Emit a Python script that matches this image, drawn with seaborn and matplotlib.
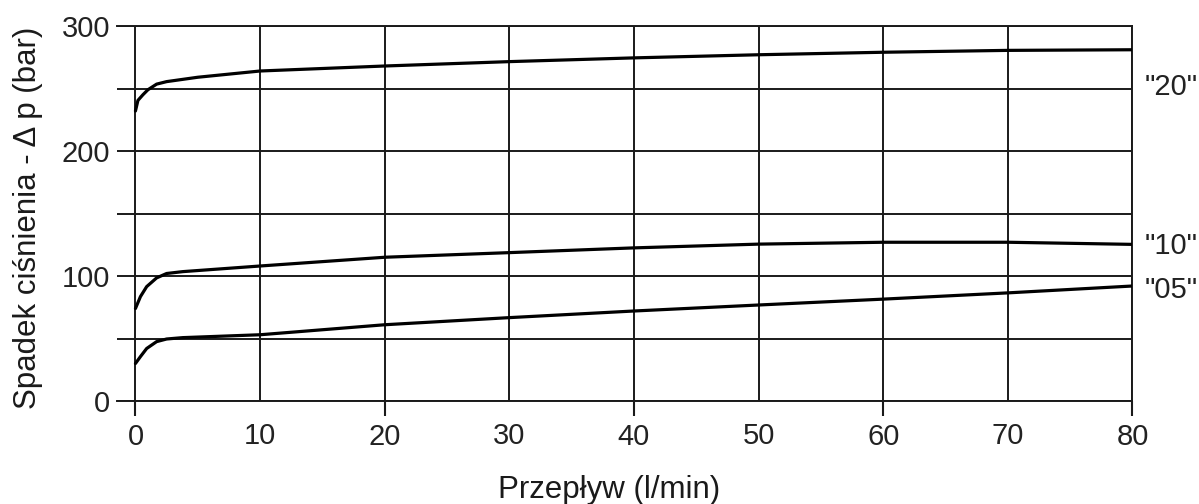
import pandas as pd
import seaborn as sns
import matplotlib.pyplot as plt

# odczyty z wykresu: przeplyw (l/min) i spadek cisnienia (bar)
flow_20 = [0, 0.2, 0.6, 1.0, 1.7, 2.5, 5, 10, 20, 30, 40, 50, 60, 70, 80]
dp_20 = [232, 240.5, 245, 249, 253.5, 255.5, 259, 264, 268, 271.5, 274.5, 277, 279, 280.5, 281]

flow_10 = [0, 0.4, 0.9, 1.7, 2.5, 3.8, 10, 20, 30, 40, 50, 60, 70, 80]
dp_10 = [74, 83.5, 91.5, 98.5, 102, 103.5, 108, 115, 118.7, 122.5, 125.5, 127, 127, 125.3]

flow_05 = [0, 0.4, 0.9, 1.7, 2.5, 3.8, 10, 20, 30, 40, 50, 60, 70, 80]
dp_05 = [30, 35.5, 42, 47.5, 49.6, 50.7, 53, 61, 66.7, 72, 76.8, 81.5, 86.5, 92]

series_names = ['"20"', '"10"', '"05"']
label_y = [251, 124, 89]

x_ticks_long = [0, 20, 40, 60, 80]
x_ticks_short = [10, 30, 50, 70]
y_ticks = list(range(0, 301, 50))
y_ticklabels = ["0", "", "100", "", "200", "", "300"]

sns.set_style("white")
plt.rcParams['font.family'] = ['Liberation Sans', 'DejaVu Sans']

fig = plt.figure(figsize=(11.99, 5.04), dpi=100)
ax = fig.add_axes([117 / 1199, 1 - 401 / 504, (1132.5 - 117) / 1199, 375 / 504])

curves = [(flow_20, dp_20), (flow_10, dp_10), (flow_05, dp_05)]
for fx, fy in curves:
    df = pd.DataFrame({"flow": fx, "dp": fy})
    sns.lineplot(data=df, x="flow", y="dp", ax=ax, color="black",
                 linewidth=2.3, sort=False, estimator=None, zorder=3)

for name, yy in zip(series_names, label_y):
    ax.text(81, yy, name, ha="left", va="center", fontsize=21,
            clip_on=False, color="#222222")

ax.set_xlim(-1.48, 80)
ax.set_ylim(0, 300)
ax.set_xticks(x_ticks_long)
ax.set_xticklabels([str(v) for v in x_ticks_long])
ax.set_xticks(x_ticks_short, minor=True)
ax.set_xticklabels([str(v) for v in x_ticks_short], minor=True)
ax.set_yticks(y_ticks)
ax.set_yticklabels(y_ticklabels)

ax.grid(True, which="both", axis="x", color="#1a1a1a", linewidth=1.4)
ax.grid(True, which="major", axis="y", color="#1a1a1a", linewidth=1.4)

# dluzsze kreski co 20 l/min wystaja pod osia
ax.tick_params(axis="x", which="major", bottom=True, length=11, width=1.5,
               color="#1a1a1a", direction="out", pad=5, labelsize=21,
               labelcolor="#222222")
ax.tick_params(axis="x", which="minor", bottom=True, length=0, pad=15,
               labelsize=21, labelcolor="#222222")
ax.tick_params(axis="y", left=False, length=0, pad=5, labelsize=21,
               labelcolor="#222222")

for side in ["top", "right", "bottom"]:
    ax.spines[side].set_visible(True)
    ax.spines[side].set_color("#1a1a1a")
    ax.spines[side].set_linewidth(1.4)
ax.spines["left"].set_visible(False)

ax.set_xlabel("")
ax.set_ylabel("")
fig.text(609.5 / 1199, 1 - 490 / 504, "Przepływ (l/min)", ha="center",
         va="center", fontsize=22.5, color="#1a1a1a")
fig.text(28 / 1199, 1 - 218 / 504, "Spadek ciśnienia - Δ p (bar)",
         rotation=90, ha="center", va="center", fontsize=22.5, color="#1a1a1a")

fig.savefig("out.png", dpi=100)
